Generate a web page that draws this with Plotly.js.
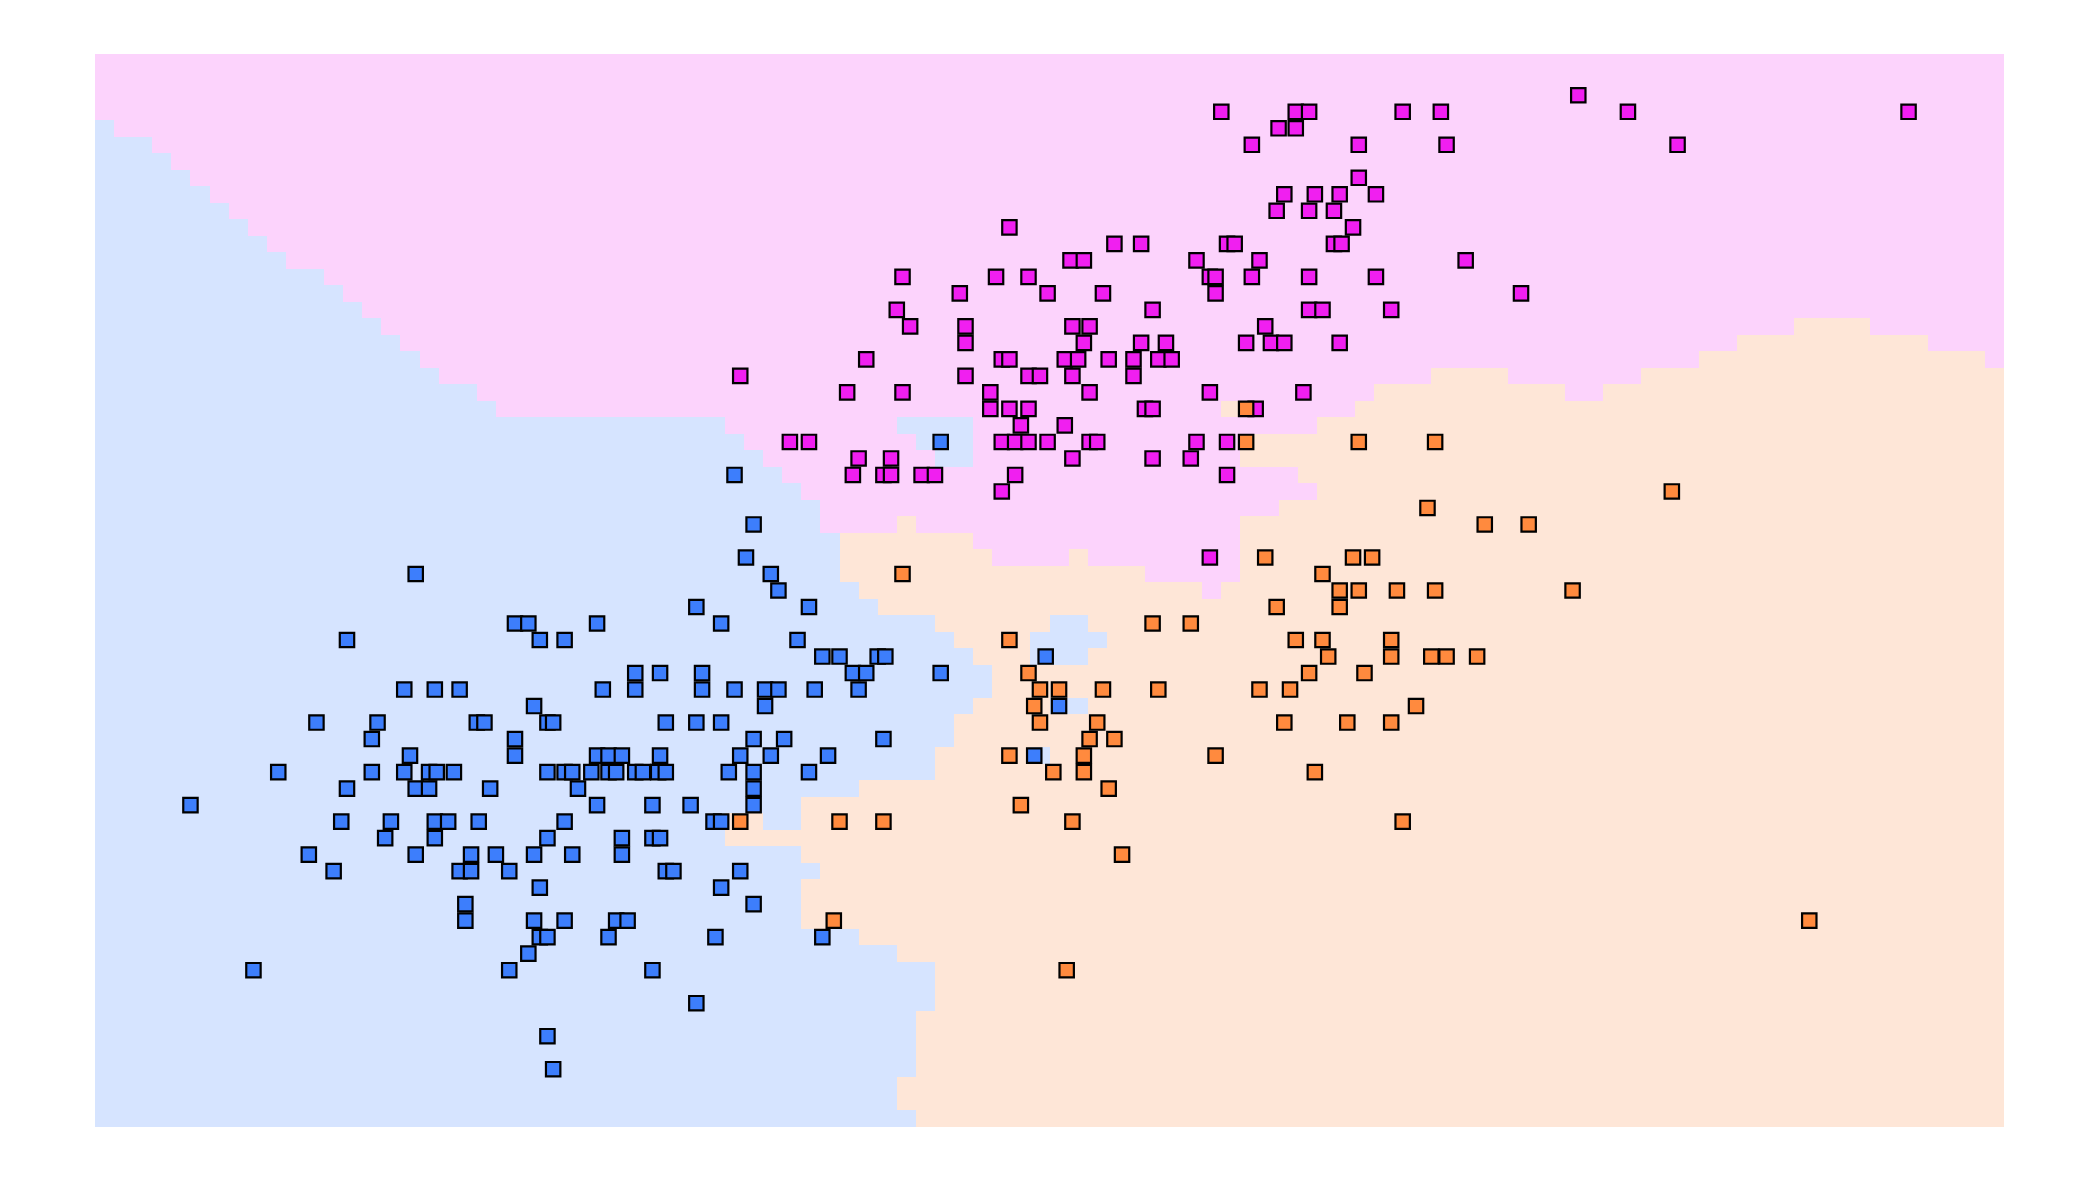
<!DOCTYPE html>
<html>
<head>
<meta charset="utf-8">
<script src="https://cdn.plot.ly/plotly-3.0.1.min.js"></script>
<style>
  html, body { margin: 0; padding: 0; background: #ffffff; }
  #chart { width: 2100px; height: 1181px; }
</style>
</head>
<body>
<div id="chart"></div>
<script>
// ---------------- Data ----------------
// Decision-region grid: 100 columns x 65 rows, listed from the top row down.
// Each row is a run-length list: B = class 0 (blue), O = class 1 (orange), P = class 2 (magenta).
const regionRows = [
  "P100", "P100", "P100", "P100",
  "B1 P99", "B3 P97", "B4 P96", "B5 P95", "B6 P94", "B7 P93",
  "B8 P92", "B9 P91", "B10 P90", "B12 P88", "B13 P87", "B14 P86",
  "B15 P74 O4 P7",
  "B16 P70 O10 P4",
  "B17 P67 O15 P1",
  "B18 P52 O4 P7 O19",
  "B20 P47 O10 P2 O21",
  "B21 P38 O2 P5 O34",
  "B33 P9 B4 P18 O36",
  "B34 P9 B3 P14 O40",
  "B35 P9 B2 P14 O40",
  "B36 P27 O37",
  "B37 P27 O36",
  "B38 P24 O38",
  "B38 P4 O1 P17 O40",
  "B39 O7 P14 O40",
  "B39 O8 P4 O1 P8 O40",
  "B39 O16 P5 O40",
  "B40 O18 P1 O41",
  "B41 O59",
  "B44 O6 B2 O48",
  "B45 O4 B4 O47",
  "B46 O3 B3 O48",
  "B47 O53",
  "B47 O53",
  "B46 O4 B2 O48",
  "B45 O55",
  "B45 O55",
  "B44 O5 B1 O50",
  "B44 O56",
  "B40 O60",
  "B37 O63",
  "B33 O2 B2 O63",
  "B33 O67",
  "B37 O63",
  "B38 O62",
  "B37 O63",
  "B37 O63",
  "B37 O63",
  "B40 O60",
  "B42 O58",
  "B44 O56",
  "B44 O56",
  "B44 O56",
  "B43 O57",
  "B43 O57",
  "B43 O57",
  "B43 O57",
  "B42 O58",
  "B42 O58",
  "B43 O57"
];

// Class 0 (blue) samples
const blueX = [
  4.43,
  3.35,
  3.45,
  3.41,
  1.68, 3.54,
  3.58,
  3.15, 3.74,
  2.20, 2.27, 2.63, 3.28,
  1.32, 2.33, 2.46, 3.68,
  3.81, 3.90, 4.10, 4.14, 4.98,
  2.83, 2.96, 3.18, 3.97, 4.04, 4.43,
  1.62, 1.78, 1.91, 2.66, 2.83, 3.18, 3.35, 3.51, 3.58, 3.77, 4.00,
  2.30, 3.51, 5.05,
  1.16, 1.48, 2.00, 2.04, 2.37, 2.40, 2.99, 3.15, 3.28,
  1.45, 2.20, 3.45, 3.61, 4.13,
  1.65, 2.20, 2.63, 2.69, 2.76, 2.96, 3.38, 3.54, 3.84, 4.92,
  0.96, 1.45, 1.62, 1.75, 1.79, 1.88, 2.37, 2.46, 2.50, 2.60, 2.69, 2.73, 2.83, 2.87, 2.95, 2.99, 3.32, 3.45, 3.74,
  1.32, 1.68, 1.75, 2.07, 2.53, 3.45,
  0.50, 2.63, 2.92, 3.12, 3.45,
  1.29, 1.55, 1.78, 1.85, 2.01, 2.46, 3.24, 3.28,
  1.52, 1.78, 2.37, 2.76, 2.92, 2.96,
  1.12, 1.68, 1.97, 2.10, 2.30, 2.50, 2.76,
  1.25, 1.91, 1.97, 2.17, 2.99, 3.03, 3.38,
  2.33, 3.28,
  1.94, 3.45,
  1.94, 2.30, 2.46, 2.73, 2.79,
  2.33, 2.37, 2.69, 3.25, 3.81,
  2.27,
  0.83, 2.17, 2.92,
  3.15,
  2.37,
  2.40
];
const blueY = [
  4.1,
  3.9,
  3.6,
  3.4,
  3.3, 3.3,
  3.2,
  3.1, 3.1,
  3.0, 3.0, 3.0, 3.0,
  2.9, 2.9, 2.9, 2.9,
  2.8, 2.8, 2.8, 2.8, 2.8,
  2.7, 2.7, 2.7, 2.7, 2.7, 2.7,
  2.6, 2.6, 2.6, 2.6, 2.6, 2.6, 2.6, 2.6, 2.6, 2.6, 2.6,
  2.5, 2.5, 2.5,
  2.4, 2.4, 2.4, 2.4, 2.4, 2.4, 2.4, 2.4, 2.4,
  2.3, 2.3, 2.3, 2.3, 2.3,
  2.2, 2.2, 2.2, 2.2, 2.2, 2.2, 2.2, 2.2, 2.2, 2.2,
  2.1, 2.1, 2.1, 2.1, 2.1, 2.1, 2.1, 2.1, 2.1, 2.1, 2.1, 2.1, 2.1, 2.1, 2.1, 2.1, 2.1, 2.1, 2.1,
  2.0, 2.0, 2.0, 2.0, 2.0, 2.0,
  1.9, 1.9, 1.9, 1.9, 1.9,
  1.8, 1.8, 1.8, 1.8, 1.8, 1.8, 1.8, 1.8,
  1.7, 1.7, 1.7, 1.7, 1.7, 1.7,
  1.6, 1.6, 1.6, 1.6, 1.6, 1.6, 1.6,
  1.5, 1.5, 1.5, 1.5, 1.5, 1.5, 1.5,
  1.4, 1.4,
  1.3, 1.3,
  1.2, 1.2, 1.2, 1.2, 1.2,
  1.1, 1.1, 1.1, 1.1, 1.1,
  1.0,
  0.9, 0.9, 0.9,
  0.7,
  0.5,
  0.3
];

// Class 2 (magenta) samples
const pinkX = [
  7.77,
  5.90, 6.29, 6.36, 6.85, 7.05, 8.03, 9.50,
  6.20, 6.29,
  6.06, 6.62, 7.08, 8.29,
  6.62,
  6.23, 6.39, 6.52, 6.71,
  6.19, 6.36, 6.49,
  4.79, 6.59,
  5.34, 5.48, 5.93, 5.97, 6.49, 6.53,
  5.11, 5.18, 5.77, 6.10, 7.18,
  4.23, 4.72, 4.89, 5.84, 5.87, 6.06, 6.36, 6.71,
  4.53, 4.99, 5.28, 5.87, 7.47,
  4.20, 5.54, 6.36, 6.43, 6.79,
  4.27, 4.56, 5.12, 5.21, 6.13,
  4.56, 5.18, 5.48, 5.61, 6.03, 6.16, 6.23, 6.52,
  4.04, 4.75, 4.79, 5.08, 5.15, 5.31, 5.44, 5.57, 5.64,
  3.38, 4.56, 4.89, 4.95, 5.12, 5.44,
  3.94, 4.23, 4.69, 5.21, 5.84, 6.33,
  4.69, 4.79, 4.89, 5.50, 5.54, 6.08,
  4.85, 5.08,
  3.64, 3.74, 4.75, 4.82, 4.89, 4.99, 5.21, 5.25, 5.77, 5.93,
  4.00, 4.17, 5.12, 5.54, 5.74,
  3.97, 4.13, 4.17, 4.33, 4.40, 4.82, 5.93,
  4.75,
  5.84
];
const pinkY = [
  6.2,
  6.1, 6.1, 6.1, 6.1, 6.1, 6.1, 6.1,
  6.0, 6.0,
  5.9, 5.9, 5.9, 5.9,
  5.7,
  5.6, 5.6, 5.6, 5.6,
  5.5, 5.5, 5.5,
  5.4, 5.4,
  5.3, 5.3, 5.3, 5.3, 5.3, 5.3,
  5.2, 5.2, 5.2, 5.2, 5.2,
  5.1, 5.1, 5.1, 5.1, 5.1, 5.1, 5.1, 5.1,
  5.0, 5.0, 5.0, 5.0, 5.0,
  4.9, 4.9, 4.9, 4.9, 4.9,
  4.8, 4.8, 4.8, 4.8, 4.8,
  4.7, 4.7, 4.7, 4.7, 4.7, 4.7, 4.7, 4.7,
  4.6, 4.6, 4.6, 4.6, 4.6, 4.6, 4.6, 4.6, 4.6,
  4.5, 4.5, 4.5, 4.5, 4.5, 4.5,
  4.4, 4.4, 4.4, 4.4, 4.4, 4.4,
  4.3, 4.3, 4.3, 4.3, 4.3, 4.3,
  4.2, 4.2,
  4.1, 4.1, 4.1, 4.1, 4.1, 4.1, 4.1, 4.1, 4.1, 4.1,
  4.0, 4.0, 4.0, 4.0, 4.0,
  3.9, 3.9, 3.9, 3.9, 3.9, 3.9, 3.9,
  3.8,
  3.4
];

// Class 1 (orange) samples
const orangeX = [
  6.03,
  6.03, 6.62, 7.02,
  8.26,
  6.98,
  7.28, 7.51,
  6.13, 6.59, 6.69,
  4.23, 6.43,
  6.52, 6.62, 6.82, 7.02, 7.74,
  6.19, 6.52,
  5.54, 5.74,
  4.79, 6.29, 6.43, 6.79,
  6.46, 6.79, 7.00, 7.08, 7.24,
  4.89, 6.36, 6.65,
  4.95, 5.05, 5.28, 5.57, 6.10, 6.26,
  4.92, 6.92,
  4.95, 5.25, 6.23, 6.56, 6.79,
  5.21, 5.34,
  4.79, 5.18, 5.87,
  5.02, 5.18, 6.39,
  5.31,
  4.85,
  3.38, 3.90, 4.13, 5.12, 6.85,
  5.38,
  3.87, 8.98,
  5.09
];
const orangeY = [
  4.3,
  4.1, 4.1, 4.1,
  3.8,
  3.7,
  3.6, 3.6,
  3.4, 3.4, 3.4,
  3.3, 3.3,
  3.2, 3.2, 3.2, 3.2, 3.2,
  3.1, 3.1,
  3.0, 3.0,
  2.9, 2.9, 2.9, 2.9,
  2.8, 2.8, 2.8, 2.8, 2.8,
  2.7, 2.7, 2.7,
  2.6, 2.6, 2.6, 2.6, 2.6, 2.6,
  2.5, 2.5,
  2.4, 2.4, 2.4, 2.4, 2.4,
  2.3, 2.3,
  2.2, 2.2, 2.2,
  2.1, 2.1, 2.1,
  2.0,
  1.9,
  1.8, 1.8, 1.8, 1.8, 1.8,
  1.6,
  1.2, 1.2,
  0.9
];

// ---------------- Build region matrix ----------------
const classIndex = { B: 0, O: 1, P: 2 };
const zTopDown = regionRows.map(function (row) {
  const cells = [];
  row.split(" ").forEach(function (tok) {
    const cls = classIndex[tok[0]];
    const n = parseInt(tok.slice(1), 10);
    for (let i = 0; i < n; i++) cells.push(cls);
  });
  if (cells.length !== 100) console.warn("row length", cells.length, row);
  return cells;
});
const zGrid = zTopDown.slice().reverse();   // bottom row first

const bgBlue = "#d6e4ff";
const bgOrange = "#fee6d7";
const bgPink = "#fcd3fc";

const regionTrace = {
  type: "heatmap",
  z: zGrid,
  x0: 0.05, dx: 0.1,
  y0: 0.0, dy: 0.1,
  zmin: 0, zmax: 2,
  zsmooth: false,
  colorscale: [
    [0, bgBlue], [0.3333, bgBlue],
    [0.3334, bgOrange], [0.6666, bgOrange],
    [0.6667, bgPink], [1, bgPink]
  ],
  showscale: false,
  hoverinfo: "skip"
};

function pointTrace(xs, ys, fill) {
  return {
    type: "scatter",
    mode: "markers",
    x: xs, y: ys,
    marker: {
      symbol: "square",
      size: 14.4,
      color: fill,
      line: { color: "#000000", width: 2.2 }
    },
    hoverinfo: "x+y"
  };
}

const data = [
  regionTrace,
  pointTrace(blueX, blueY, "#3d7efc"),
  pointTrace(pinkX, pinkY, "#f01ff0"),
  pointTrace(orangeX, orangeY, "#ff8a3e")
];

const layout = {
  width: 2100,
  height: 1181,
  margin: { l: 95, r: 96, t: 54, b: 54, pad: 0 },
  paper_bgcolor: "#ffffff",
  plot_bgcolor: "#ffffff",
  showlegend: false,
  xaxis: { range: [0, 10], visible: false, showgrid: false, zeroline: false, fixedrange: true },
  yaxis: { range: [-0.05, 6.45], visible: false, showgrid: false, zeroline: false, fixedrange: true }
};

Plotly.newPlot("chart", data, layout, { staticPlot: true, displayModeBar: false });
</script>
</body>
</html>
